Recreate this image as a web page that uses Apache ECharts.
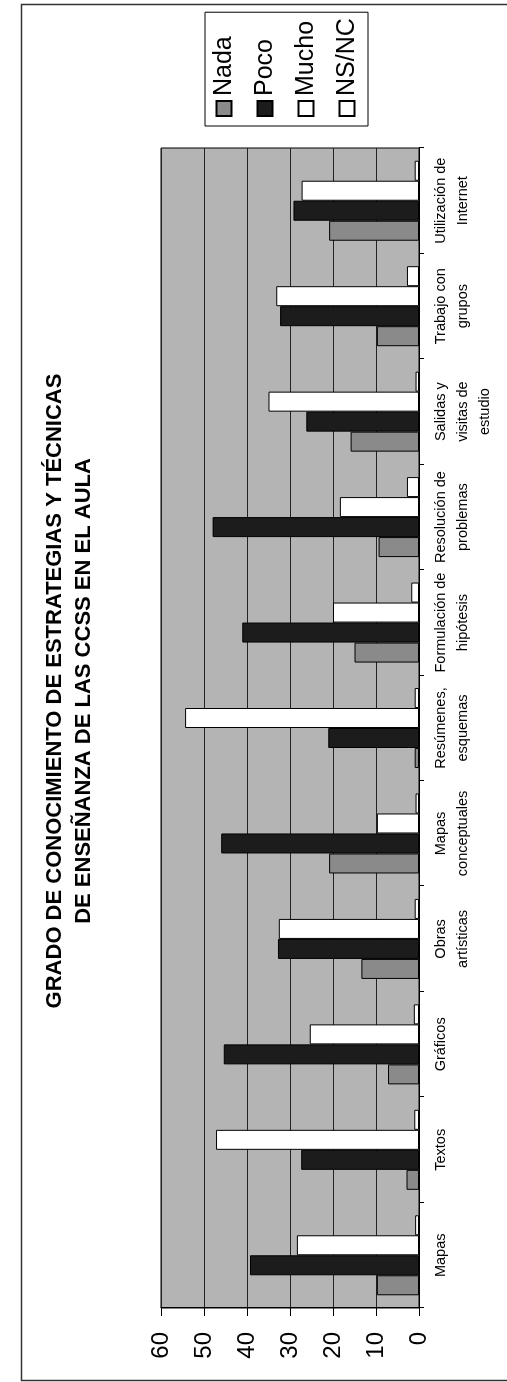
<!DOCTYPE html>
<html>
<head>
<meta charset="utf-8">
<script src="https://cdn.jsdelivr.net/npm/echarts@6/dist/echarts.min.js"></script>
<style>
html,body{margin:0;padding:0;width:507px;height:1382px;overflow:hidden;background:#fff;}
#c{position:absolute;left:0;top:0;width:1382px;height:507px;transform-origin:0 0;transform:translate(0,1382px) rotate(-90deg);}
</style>
</head>
<body>
<div id="c"></div>
<script>
const categories = ['Mapas','Textos','Gráficos','Obras\nartísticas','Mapas\nconceptuales','Resúmenes,\nesquemas','Formulación de\nhipótesis','Resolución de\nproblemas','Salidas y\nvisitas de\nestudio','Trabajo con\ngrupos','Utilización de\nInternet'];
const seriesNames = ['Nada','Poco','Mucho','NS/NC'];
const nada  = [9.8, 2.9, 7.2, 13.4, 20.9, 1.0, 15.0, 9.4, 15.9, 9.8, 20.9];
const poco  = [39.3, 27.4, 45.4, 32.8, 46.0, 21.1, 41.1, 48.0, 26.2, 32.3, 29.2];
const mucho = [28.4, 47.2, 25.4, 32.6, 9.8, 54.4, 20.0, 18.4, 35.0, 33.2, 27.3];
const nsnc  = [0.9, 1.1, 1.2, 1.0, 0.8, 1.0, 1.8, 2.8, 0.8, 2.8, 1.0];
const titleLines = ['GRADO DE CONOCIMIENTO DE ESTRATEGIAS Y TÉCNICAS','DE ENSEÑANZA DE LAS CCSS EN EL AULA'];

const FONT = "'Liberation Sans', Arial, sans-serif";
const colors = ['#8a8a8a','#1c1c1c','#ffffff','#ffffff'];
const values = [nada, poco, mucho, nsnc];

const chart = echarts.init(document.getElementById('c'), null, {renderer:'canvas', width:1382, height:507});
chart.setOption({
  animation:false,
  backgroundColor:'#ffffff',
  title:{
    text: titleLines.join('\n'),
    left:'center', top:40, padding:0,
    textStyle:{fontFamily:FONT, fontSize:22, fontWeight:'bold', color:'#000', lineHeight:29}
  },
  legend:{
    orient:'vertical',
    left:1256, top:205,
    padding:[6,6,8,9],
    itemWidth:15, itemHeight:15, itemGap:15,
    backgroundColor:'#fff', borderColor:'#000', borderWidth:1,
    icon:'rect',
    textStyle:{fontFamily:FONT, fontSize:25, color:'#000', lineHeight:26},
    data: seriesNames
  },
  graphic:[{
    type:'rect', silent:true,
    shape:{x:1.5, y:21.5, width:1376, height:600},
    style:{fill:null, stroke:'#333', lineWidth:1.5}
  }],
  grid:{
    left:74, right:148, top:161, bottom:88,
    show:true, backgroundColor:'#b4b4b4', borderColor:'#000', borderWidth:1
  },
  xAxis:{
    type:'category', data:categories,
    boundaryGap:true,
    axisLine:{show:true, lineStyle:{color:'#000', width:1}},
    axisTick:{show:true, length:5, interval:0, lineStyle:{color:'#000'}},
    axisLabel:{interval:0, margin:11, fontFamily:FONT, fontSize:14.5, lineHeight:22, color:'#000'},
    splitLine:{show:false}
  },
  yAxis:{
    type:'value', min:0, max:60, interval:10,
    axisLine:{show:true, lineStyle:{color:'#000', width:1}},
    axisTick:{show:true, length:8, lineStyle:{color:'#000'}},
    axisLabel:{margin:24, fontFamily:FONT, fontSize:24, color:'#000'},
    splitLine:{show:true, lineStyle:{color:'#222', width:1}}
  },
  series: seriesNames.map((n,i)=>({
    name:n, type:'bar', data:values[i],
    barWidth:20, barGap:'0%',
    itemStyle:{color:colors[i], borderColor:'#000', borderWidth:1}
  }))
});
</script>
</body>
</html>
